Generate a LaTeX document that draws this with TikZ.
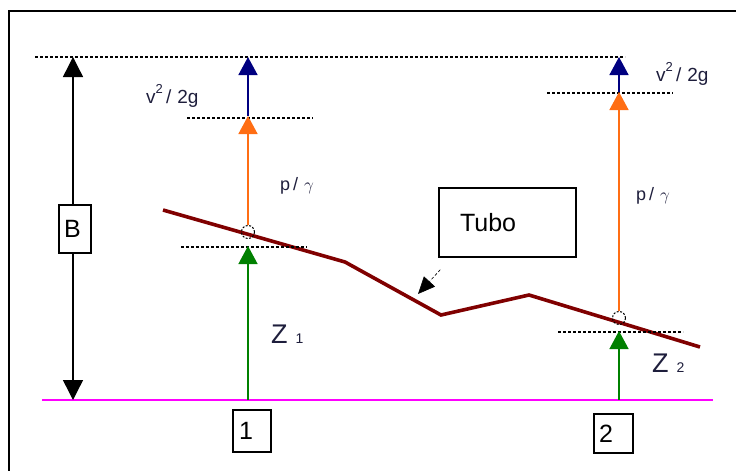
\documentclass[tikz,border=0pt]{standalone}
\usepackage{fontspec}
\setmainfont{Liberation Sans}
\usetikzlibrary{arrows.meta}
\definecolor{headv}{RGB}{0,0,128}
\definecolor{headp}{RGB}{255,110,20}
\definecolor{headz}{RGB}{0,128,0}
\definecolor{pipec}{RGB}{128,0,0}
\definecolor{datum}{RGB}{255,0,255}
\definecolor{lblc}{RGB}{30,30,60}

\begin{document}
\begin{tikzpicture}[x=1pt,y=-1pt]
\tikzstyle{head}=[-{Triangle[width=19pt,length=18pt]}]
\tikzstyle{level}=[line width=2.8pt, dash pattern=on 3pt off 2pt]
\tikzstyle{toplevel}=[line width=1.6pt, dash pattern=on 3pt off 2pt]
\tikzstyle{pipe}=[line width=3.6pt, color=pipec]
\tikzstyle{point}=[circle, draw, dash pattern=on 2pt off 1.5pt, line width=1pt, minimum size=13pt, inner sep=0pt]
\tikzstyle{numbox}=[draw, line width=1.4pt, fill=white, inner ysep=0pt, align=left, font=\fontsize{25}{25}\selectfont]
\tikzstyle{lbl}=[color=lblc, inner sep=0pt]

\useasboundingbox (0,0) rectangle (736,471);
\draw [line width=2pt] (9,471) -- (9,11) -- (736,11);

% reference levels
\coordinate (top1) at (35,57);
\coordinate (top2) at (625,57);
\draw [toplevel] (top1) -- (top2);
\coordinate (dat1) at (42,400);
\coordinate (dat2) at (713,400);
\draw [line width=1.6pt, color=datum] (dat1) -- (dat2);

% B
\coordinate (Btop) at (73,57);
\coordinate (Bbot) at (73,400);
\node (B) [numbox, minimum height=48pt, inner xsep=5pt, text width=22pt] at (75,229) {B};
\draw [-{Triangle[width=20pt,length=20pt]}, line width=1.4pt] (B.north -| Btop) -- (Btop);
\draw [-{Triangle[width=20pt,length=20pt]}, line width=1.4pt] (B.south -| Bbot) -- (Bbot);

% pipe
\coordinate (pipe1) at (163,210);
\coordinate (pipe2) at (345,262);
\coordinate (pipe3) at (441,315);
\coordinate (pipe4) at (529,295);
\coordinate (pipe5) at (700,347);
\draw [pipe] (pipe1) -- (pipe2) -- (pipe3) -- (pipe4) -- (pipe5);

% section 1
\coordinate (g1) at (248,400);
\coordinate (z1) at (248,246);
\coordinate (p1) at (248,116);
\coordinate (t1) at (248,57);
\node (c1) [point] at (248,232) {};
\path (z1) + (-67,1) coordinate (z1l);
\path (z1) + (59,1) coordinate (z1r);
\path (p1) + (-61,2) coordinate (p1l);
\path (p1) + (65,2) coordinate (p1r);
\draw [level] (z1l) -- (z1r);
\draw [level] (p1l) -- (p1r);
\draw [head, line width=1.4pt, color=headz] (g1) -- (z1);
\draw [head, line width=1.6pt, color=headp] (c1.north) -- (p1);
\draw [head, line width=1.6pt, color=headv] (p1) -- (t1);

% section 2
\coordinate (g2) at (619,400);
\coordinate (z2) at (619,331);
\coordinate (p2) at (619,92);
\coordinate (t2) at (619,57);
\node (c2) [point] at (619,318) {};
\path (z2) + (-61,1) coordinate (z2l);
\path (z2) + (64,1) coordinate (z2r);
\path (p2) + (-72,1) coordinate (p2l);
\path (p2) + (54,1) coordinate (p2r);
\draw [level] (z2l) -- (z2r);
\draw [level] (p2l) -- (p2r);
\draw [head, line width=1.4pt, color=headz] (g2) -- (z2);
\draw [head, line width=1.6pt, color=headp] (c2.north) -- (p2);
\draw [head, line width=1.6pt, color=headv] (p2) -- (t2);

% labels
\node (V1) [lbl, anchor=base west, font=\fontsize{19}{19}\selectfont] at (146,103) {v\raisebox{10pt}{\fontsize{13}{13}\selectfont 2}\,/\hspace{6pt}2g};
\node (P1) [lbl, font=\fontsize{18}{18}\selectfont] at (297,186) {p\,/\,\,$\gamma$};
\node (Z1) [lbl, anchor=base west, font=\fontsize{27}{27}\selectfont] at (271,343) {Z\hspace{8pt}{\fontsize{14}{14}\selectfont 1}};
\node (V2) [lbl, anchor=base west, font=\fontsize{19}{19}\selectfont] at (656,81) {v\raisebox{10pt}{\fontsize{13}{13}\selectfont 2}\,/\hspace{6pt}2g};
\node (P2) [lbl, font=\fontsize{18}{18}\selectfont] at (653,196) {p\,/\,\,$\gamma$};
\node (Z2) [lbl, anchor=base west, font=\fontsize{27}{27}\selectfont] at (652,372) {Z\hspace{8pt}{\fontsize{14}{14}\selectfont 2}};

\node (N1) [numbox, minimum height=42pt, inner xsep=6pt, text width=26pt] at (252,431) {1};
\node (N2) [numbox, minimum height=39pt, inner xsep=5pt, text width=29pt] at (613.5,433.5) {2};

% tube label
\node (tubo) [draw, line width=1.4pt, minimum height=69pt, text width=95pt, inner xsep=21pt, align=left, font=\fontsize{25}{25}\selectfont] at (507.5,222.5) {Tubo};
\path (tubo.south west) + (2,12) coordinate (tubotail);
\coordinate (tubotip) at (418,294);
\draw [-{Triangle[width=15pt,length=17pt]}, densely dashed, line width=0.6pt] (tubotail) -- (tubotip);

\end{tikzpicture}
\end{document}
